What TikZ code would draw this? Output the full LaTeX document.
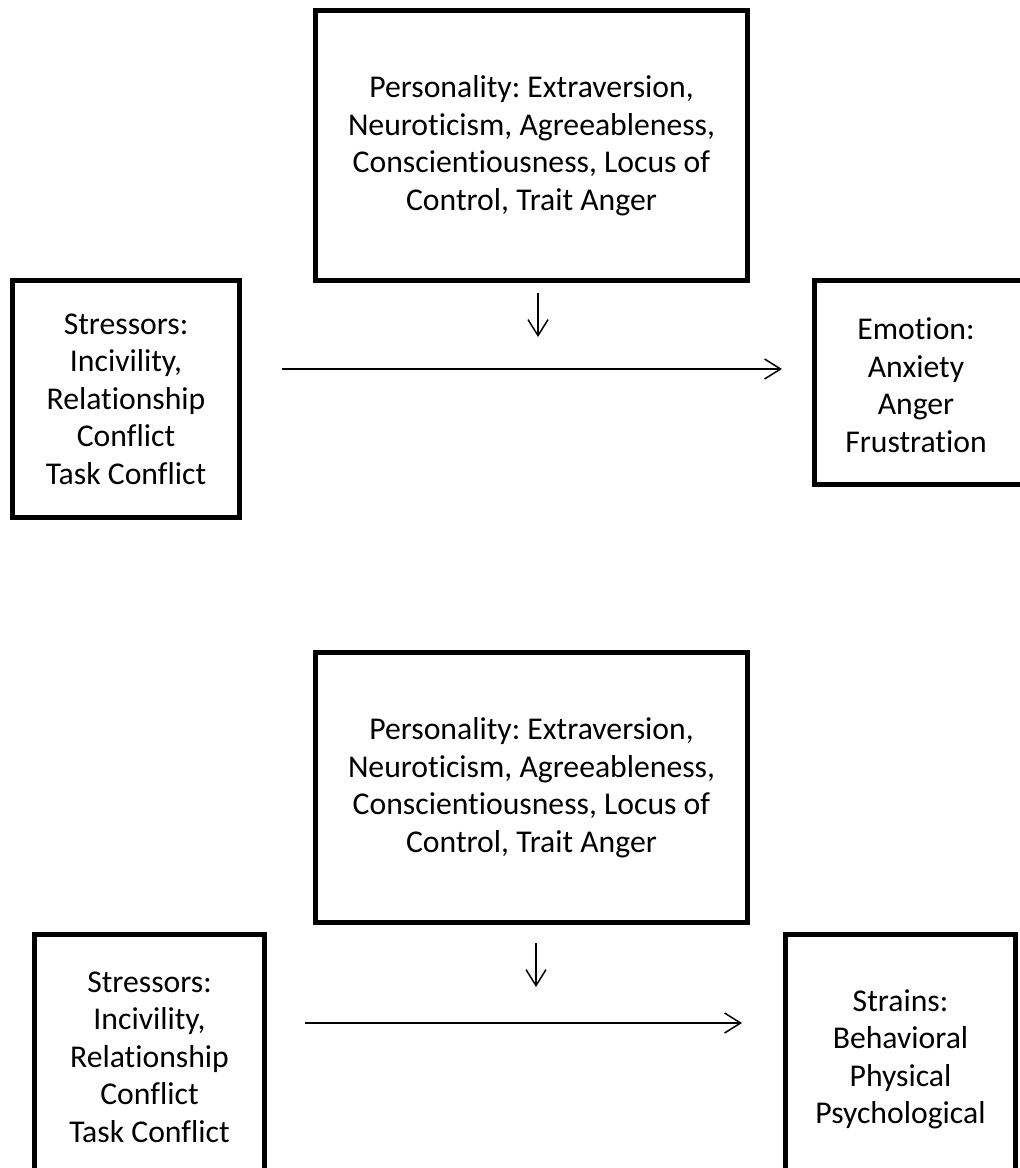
\documentclass[tikz,border=0pt]{standalone}
\usepackage{fontspec}
\setmainfont{Carlito}[Ligatures={NoCommon,NoContextual}]
\frenchspacing
\newcommand\nolg{\kern0pt }
\usetikzlibrary{arrows.meta,calc}
\begin{document}
\begin{tikzpicture}[x=1pt,y=-1pt,
  box/.style={draw, line width=5pt, rectangle, inner sep=0pt, outer sep=0pt},
  txt/.style={align=center, font=\fontsize{31.7}{37.5}\selectfont, inner sep=0pt},
  arr/.style={line width=1.5pt, -{Straight Barb[length=16pt,width=20pt]}}]
\useasboundingbox[fill=white] (0,0) rectangle (1020,1168);
\clip (0,0) rectangle (1020,1168);
% top diagram
\node[box, txt, minimum width=432pt, minimum height=270pt] (p1) at (531.5,145.5)
  {Personality: Extraversion,\\Neuroticism, Agreeableness,\\Conscient\nolg iousness, Locus of\\Control, Trait Anger};
\node[box, txt, minimum width=227pt, minimum height=237pt] (s1) at (126,399)
  {Stressors:\\Incivility,\\Relat\nolg ionship\\Conf\nolg lict\\Task Conf\nolg lict};
\node[box, minimum width=225.5pt, minimum height=204pt] (e1) at (927.25,382.5) {};
\node[txt] (e1t) at (916,385) {Emot\nolg ion:\\Anxiety\\Anger\\Frustrat\nolg ion};
\coordinate (h1) at (0,369);
\coordinate (d1) at (538,337);
\draw[arr, shorten <=12.5pt] (p1.south -| d1) -- (d1);
\draw[arr, shorten <=42.5pt, shorten >=32.5pt] (s1.east |- h1) -- (e1.west |- h1);
% bottom diagram
\node[box, txt, minimum width=432pt, minimum height=270pt] (p2) at (531.5,787.5)
  {Personality: Extraversion,\\Neuroticism, Agreeableness,\\Conscient\nolg iousness, Locus of\\Control, Trait Anger};
\node[box, txt, minimum width=230pt, minimum height=245.5pt] (s2) at (149.5,1057.25)
  {Stressors:\\Incivility,\\Relat\nolg ionship\\Conf\nolg lict\\Task Conf\nolg lict};
\node[box, txt, minimum width=230pt, minimum height=249.5pt] (st) at (900.5,1059.25)
  {Strains:\\Behavioral\\Physical\\Psychological};
\coordinate (h2) at (0,1023);
\coordinate (d2) at (536,987);
\draw[arr, shorten <=20.5pt] (p2.south -| d2) -- (d2);
\draw[arr, shorten <=40.5pt, shorten >=43.5pt] (s2.east |- h2) -- (st.west |- h2);
\end{tikzpicture}
\end{document}
